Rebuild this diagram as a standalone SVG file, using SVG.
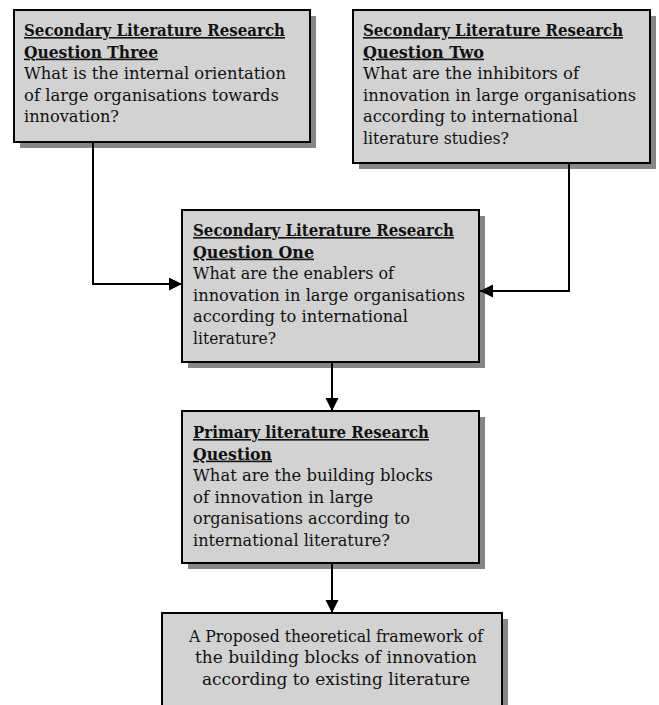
<svg xmlns="http://www.w3.org/2000/svg" width="659" height="705" viewBox="0 0 659 705">
<style>
.box{fill:#d2d2d2;stroke:#000;stroke-width:2}
.shadow{fill:#868686}
text{font-family:"DejaVu Serif","Liberation Serif",serif;font-size:16px;fill:#111}
.h{font-weight:bold;text-decoration:underline}
.c{text-anchor:middle}
.conn{fill:none;stroke:#000;stroke-width:2}
</style>
<defs>
<marker id="arr" markerUnits="userSpaceOnUse" markerWidth="14" markerHeight="14" refX="13" refY="6.5" orient="auto">
<path d="M0,0 L13,6.5 L0,13 z" fill="#000"/>
</marker>
</defs>
<rect width="659" height="705" fill="#fff"/>
<g id="q3">
<rect class="shadow" x="20" y="16" width="296" height="132"/>
<rect class="box" x="14" y="10" width="296" height="132"/>
<text x="24" y="36" class="h" textLength="261" lengthAdjust="spacingAndGlyphs">Secondary Literature Research</text>
<text x="24" y="57.6" class="h" textLength="134" lengthAdjust="spacingAndGlyphs">Question Three</text>
<text x="24" y="79.2" textLength="262" lengthAdjust="spacingAndGlyphs">What is the internal orientation</text>
<text x="24" y="100.8" textLength="255" lengthAdjust="spacingAndGlyphs">of large organisations towards</text>
<text x="24" y="122.4" textLength="95" lengthAdjust="spacingAndGlyphs">innovation?</text>
</g>
<g id="q2">
<rect class="shadow" x="359" y="16" width="297" height="153"/>
<rect class="box" x="353" y="10" width="297" height="153"/>
<text x="363" y="36" class="h" textLength="260" lengthAdjust="spacingAndGlyphs">Secondary Literature Research</text>
<text x="363" y="57.6" class="h" textLength="121" lengthAdjust="spacingAndGlyphs">Question Two</text>
<text x="363" y="79.2" textLength="216" lengthAdjust="spacingAndGlyphs">What are the inhibitors of</text>
<text x="363" y="100.8" textLength="273" lengthAdjust="spacingAndGlyphs">innovation in large organisations</text>
<text x="363" y="122.4" textLength="215" lengthAdjust="spacingAndGlyphs">according to international</text>
<text x="363" y="144" textLength="146" lengthAdjust="spacingAndGlyphs">literature studies?</text>
</g>
<g id="q1">
<rect class="shadow" x="188" y="216" width="297" height="152"/>
<rect class="box" x="182" y="210" width="297" height="152"/>
<text x="193" y="236" class="h" textLength="261" lengthAdjust="spacingAndGlyphs">Secondary Literature Research</text>
<text x="193" y="257.6" class="h" textLength="121" lengthAdjust="spacingAndGlyphs">Question One</text>
<text x="193" y="279.2" textLength="201" lengthAdjust="spacingAndGlyphs">What are the enablers of</text>
<text x="193" y="300.8" textLength="272" lengthAdjust="spacingAndGlyphs">innovation in large organisations</text>
<text x="193" y="322.4" textLength="215" lengthAdjust="spacingAndGlyphs">according to international</text>
<text x="193" y="344" textLength="83" lengthAdjust="spacingAndGlyphs">literature?</text>
</g>
<g id="primary">
<rect class="shadow" x="188" y="417" width="297" height="152"/>
<rect class="box" x="182" y="411" width="297" height="152"/>
<text x="193" y="438" class="h" textLength="236" lengthAdjust="spacingAndGlyphs">Primary literature Research</text>
<text x="193" y="459.6" class="h" textLength="79" lengthAdjust="spacingAndGlyphs">Question</text>
<text x="193" y="481.2" textLength="240" lengthAdjust="spacingAndGlyphs">What are the building blocks</text>
<text x="193" y="502.8" textLength="180" lengthAdjust="spacingAndGlyphs">of innovation in large</text>
<text x="193" y="524.4" textLength="217" lengthAdjust="spacingAndGlyphs">organisations according to</text>
<text x="193" y="546" textLength="197" lengthAdjust="spacingAndGlyphs">international literature?</text>
</g>
<g id="framework">
<rect class="shadow" x="168" y="619" width="340" height="100"/>
<rect class="box" x="162" y="613" width="340" height="100"/>
<text x="336" y="641.7" class="c" textLength="294" lengthAdjust="spacingAndGlyphs">A Proposed theoretical framework of</text>
<text x="336" y="663.3" class="c" textLength="282" lengthAdjust="spacingAndGlyphs">the building blocks of innovation</text>
<text x="336" y="685" class="c" textLength="268" lengthAdjust="spacingAndGlyphs">according to existing literature</text>
</g>
<g id="connectors">
<path class="conn" d="M93,143 V284 H182" marker-end="url(#arr)"/>
<path class="conn" d="M569,164 V291 H480" marker-end="url(#arr)"/>
<path class="conn" d="M332,363 V411" marker-end="url(#arr)"/>
<path class="conn" d="M332,564 V613" marker-end="url(#arr)"/>
</g>
</svg>
